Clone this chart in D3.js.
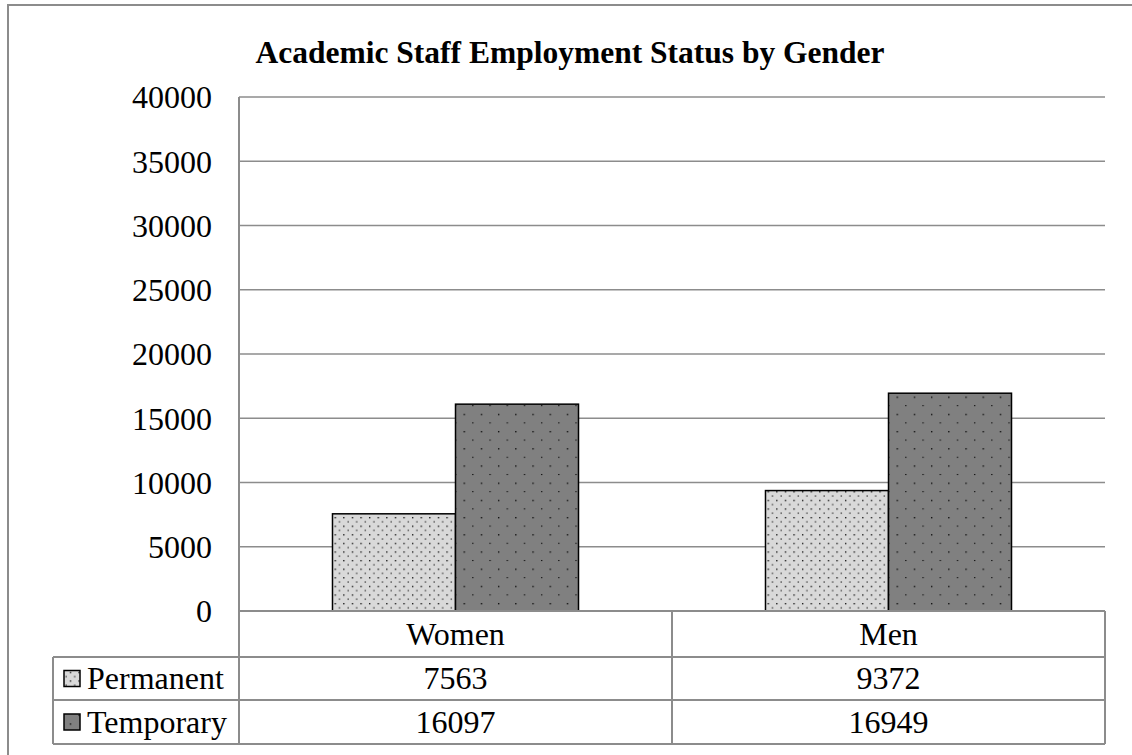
<!DOCTYPE html>
<html lang="en">
<head>
  <meta charset="UTF-8" />
  <title>Academic Staff Employment Status by Gender</title>
  <script src="https://cdn.jsdelivr.net/npm/d3@7"></script>
  <style>
    body { margin: 0; background: #fff; }
    svg { display: block; font-family: 'Liberation Serif', 'Times New Roman', serif; }
  </style>
</head>
<body>
<svg id="chart" width="1132" height="755"></svg>
<script>
  // data
  const categories = ["Women", "Men"];
  const seriesNames = ["Permanent", "Temporary"];
  const permanent = [7563, 9372];
  const temporary = [16097, 16949];
  const yTicks = [0, 5000, 10000, 15000, 20000, 25000, 30000, 35000, 40000];

  const fills = { Permanent: "#d9d9d9", Temporary: "#808080" };
  const values = { Permanent: permanent, Temporary: temporary };

  const svg = d3.select("#chart");
  const W = 1132, H = 755;
  const plot = { left: 239, right: 1105, top: 97, bottom: 611 };
  const rowLines = [611, 657, 700, 744];   // data table rows
  const legendLeft = 53;
  const gridColor = "#8c8c8c";
  const fontSize = 32;

  // dot patterns
  const defs = svg.append("defs");
  function dotPattern(id, bg, step) {
    const p = defs.append("pattern")
      .attr("id", id)
      .attr("patternUnits", "userSpaceOnUse")
      .attr("width", step).attr("height", step);
    p.append("rect").attr("width", step).attr("height", step).attr("fill", bg);
    p.append("rect").attr("x", 1).attr("y", 1).attr("width", 1.3).attr("height", 1.3).attr("fill", "#000");
    p.append("rect").attr("x", 1 + step / 2).attr("y", 1 + step / 2).attr("width", 1.3).attr("height", 1).attr("fill", "#000");
  }
  dotPattern("pat-Permanent", fills.Permanent, 8.6);
  dotPattern("pat-Temporary", fills.Temporary, 17.2);

  // outer frame (runs off the right and bottom edge)
  svg.append("rect")
    .attr("x", 8).attr("y", 5)
    .attr("width", W + 20).attr("height", H + 20)
    .attr("fill", "none").attr("stroke", gridColor).attr("stroke-width", 2);

  svg.append("text")
    .attr("x", 570).attr("y", 63)
    .attr("text-anchor", "middle")
    .attr("font-size", 31.5).attr("font-weight", "bold")
    .text("Academic Staff Employment Status by Gender");

  const y = d3.scaleLinear().domain([0, 40000]).range([plot.bottom, plot.top]);
  const x0 = d3.scaleBand().domain(categories).range([plot.left, plot.right]);
  const x1 = d3.scaleBand().domain(seriesNames).range([0, x0.bandwidth()]).paddingOuter(0.76);

  // gridlines
  svg.append("g").selectAll("line")
    .data(yTicks.filter(t => t > 0))
    .join("line")
    .attr("x1", plot.left).attr("x2", plot.right)
    .attr("y1", d => y(d)).attr("y2", d => y(d))
    .attr("stroke", gridColor).attr("stroke-width", 1.5);

  // y axis labels
  const yAxis = d3.axisLeft(y).tickValues(yTicks).tickSize(0).tickPadding(0).tickFormat(d3.format("d"));
  const ay = svg.append("g").attr("transform", `translate(${plot.left - 27},0)`).call(yAxis);
  ay.select(".domain").remove();
  ay.selectAll("text")
    .attr("font-family", "'Liberation Serif', 'Times New Roman', serif")
    .attr("font-size", fontSize).attr("fill", "#000").attr("dy", "0.34em");

  // left edge of plot area
  svg.append("line")
    .attr("x1", plot.left).attr("x2", plot.left)
    .attr("y1", plot.top).attr("y2", rowLines[3])
    .attr("stroke", gridColor).attr("stroke-width", 2);

  // bars
  const groups = svg.append("g").selectAll("g")
    .data(categories)
    .join("g")
    .attr("transform", d => `translate(${x0(d)},0)`);

  groups.selectAll("rect")
    .data((c, i) => seriesNames.map(s => ({ s, v: values[s][i] })))
    .join("rect")
    .attr("x", d => x1(d.s))
    .attr("width", x1.bandwidth())
    .attr("y", d => y(d.v))
    .attr("height", d => y(0) - y(d.v))
    .attr("fill", d => `url(#pat-${d.s})`)
    .attr("stroke", "#000").attr("stroke-width", 1.5);

  // data table
  const tbl = svg.append("g").attr("stroke", gridColor).attr("stroke-width", 2);
  tbl.append("line").attr("x1", plot.left).attr("x2", plot.right).attr("y1", rowLines[0]).attr("y2", rowLines[0]);
  tbl.selectAll("line.row")
    .data(rowLines.slice(1))
    .join("line").attr("class", "row")
    .attr("x1", legendLeft).attr("x2", plot.right)
    .attr("y1", d => d).attr("y2", d => d);
  tbl.append("line").attr("x1", legendLeft).attr("x2", legendLeft).attr("y1", rowLines[1]).attr("y2", rowLines[3]);
  tbl.selectAll("line.col")
    .data(categories)
    .join("line").attr("class", "col")
    .attr("x1", d => x0(d) + x0.bandwidth()).attr("x2", d => x0(d) + x0.bandwidth())
    .attr("y1", rowLines[0]).attr("y2", rowLines[3]);

  svg.append("g").selectAll("text")
    .data(categories)
    .join("text")
    .attr("x", d => x0(d) + x0.bandwidth() / 2)
    .attr("y", (rowLines[0] + rowLines[1]) / 2)
    .attr("dy", "0.34em")
    .attr("text-anchor", "middle")
    .attr("font-size", fontSize)
    .text(d => d);

  seriesNames.forEach((s, r) => {
    const cy = (rowLines[r + 1] + rowLines[r + 2]) / 2;
    svg.append("rect")
      .attr("x", 64).attr("y", cy - 8)
      .attr("width", 16).attr("height", 16)
      .attr("fill", `url(#pat-${s})`)
      .attr("stroke", "#000").attr("stroke-width", 1.5);
    svg.append("text")
      .attr("x", 87).attr("y", cy).attr("dy", "0.34em")
      .attr("font-size", fontSize)
      .text(s);
    svg.append("g").selectAll("text")
      .data(categories)
      .join("text")
      .attr("x", d => x0(d) + x0.bandwidth() / 2)
      .attr("y", cy).attr("dy", "0.34em")
      .attr("text-anchor", "middle")
      .attr("font-size", fontSize)
      .text((d, i) => values[s][i]);
  });
</script>
</body>
</html>
